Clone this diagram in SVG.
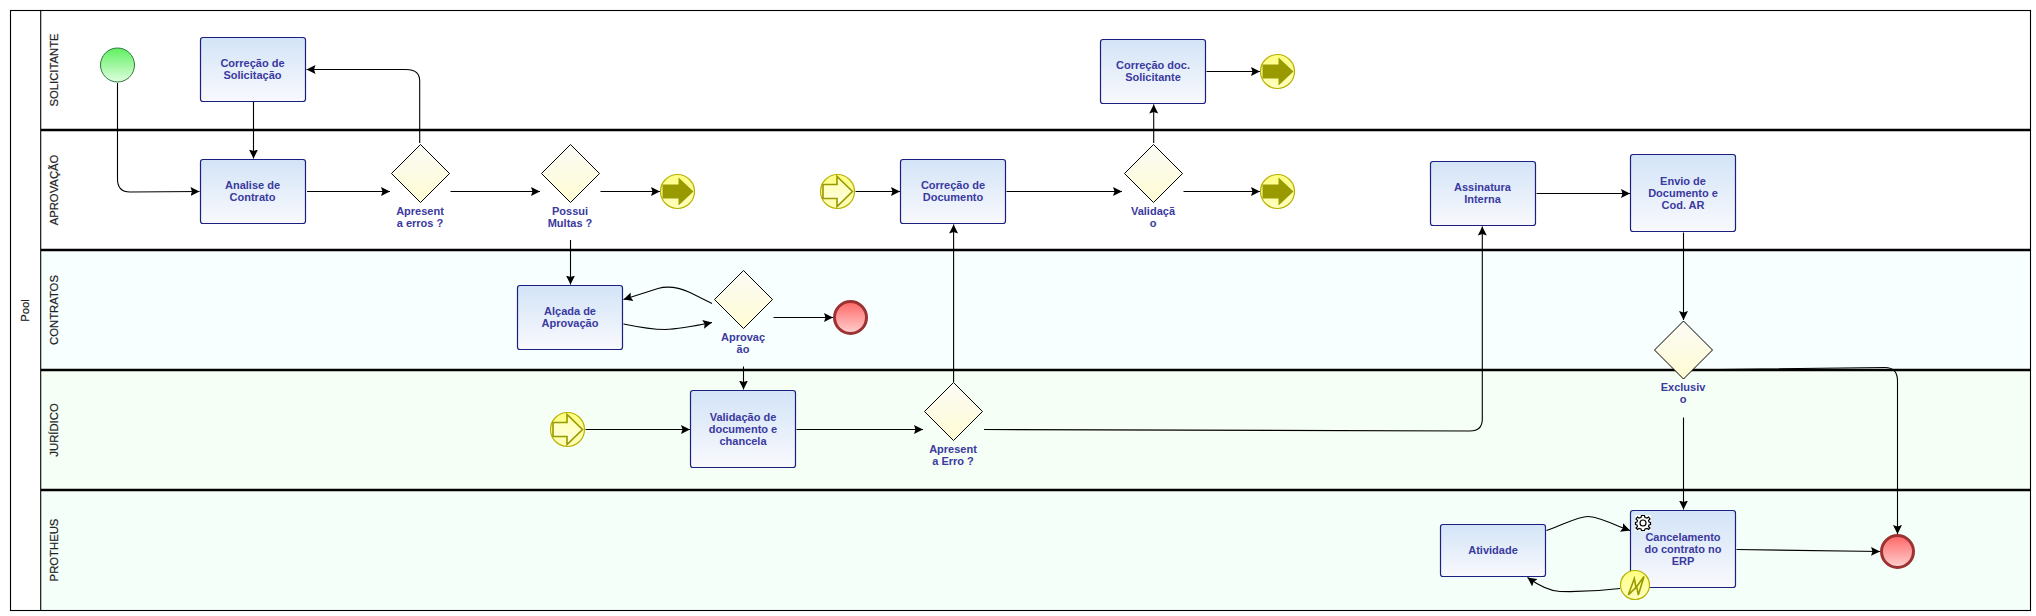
<svg xmlns="http://www.w3.org/2000/svg" width="2036" height="616" viewBox="0 0 2036 616">
<style>
text{font-family:"Liberation Sans",Arial,sans-serif}
.t{font-size:11px;font-weight:bold;fill:#3a3aa0;text-anchor:middle}
.l{font-size:11.3px;fill:#222;stroke:#222;stroke-width:.2;text-anchor:middle}
.task{fill:url(#gt);stroke:#1a1f80;stroke-width:1.2}
.gw{fill:url(#gg);stroke:#000;stroke-width:1}
.ev{fill:url(#ge);stroke:#b8b000;stroke-width:1.2}
.ar{fill:#999900}
.ao{fill:url(#gw2);stroke:#999900;stroke-width:1.6}
.end{fill:url(#gr);stroke:#9c3232;stroke-width:3}
.c path{fill:none;stroke:#000;stroke-width:1.1;marker-end:url(#m)}
.sep{stroke:#000;stroke-width:2.4}
</style>
<defs>
<linearGradient id="gt" x1="0" y1="0" x2="0" y2="1"><stop offset="0" stop-color="#d3e4f7"/><stop offset="1" stop-color="#f9f9fd"/></linearGradient>
<linearGradient id="gg" x1="0" y1="0" x2="0" y2="1"><stop offset="0" stop-color="#fbfbf6"/><stop offset="1" stop-color="#fffcd2"/></linearGradient>
<linearGradient id="ge" x1="0" y1="0" x2="0" y2="1"><stop offset="0" stop-color="#ffff80"/><stop offset="1" stop-color="#ffffc0"/></linearGradient>
<linearGradient id="gw2" x1="0" y1="0" x2="0" y2="1"><stop offset="0" stop-color="#ffffb0"/><stop offset="1" stop-color="#ffffe0"/></linearGradient>
<linearGradient id="gs" x1="0" y1="0" x2="0" y2="1"><stop offset="0" stop-color="#5fef5f"/><stop offset="1" stop-color="#e0ffe0"/></linearGradient>
<linearGradient id="gr" x1="0" y1="0" x2="0" y2="1"><stop offset="0" stop-color="#ff6666"/><stop offset="1" stop-color="#ffd0d0"/></linearGradient>
<marker id="m" markerUnits="userSpaceOnUse" markerWidth="10" markerHeight="10" refX="9" refY="5" orient="auto"><path d="M0,0.5 L9,5 L0,9.5 L1.5,5 Z" fill="#000"/></marker>
<path id="aSolid" d="M-15,-7 L1,-7 L1,-14 L16,0 L1,14 L1,7 L-15,7 Z"/>
<path id="aOpen" d="M-14.500,-7 L-0.500,-7 L-0.500,-15 L15,0 L-0.500,15 L-0.500,7 L-14.500,7 Z"/>
</defs>

<g id="pool">
<rect x="10.500" y="10.500" width="2020" height="600" fill="#fff"/>
<rect x="41" y="250" width="1989.500" height="120" fill="#f8ffff"/>
<rect x="41" y="370" width="1989.500" height="120" fill="#f5fff5"/>
<rect x="41" y="490" width="1989.500" height="120" fill="#f5fffa"/>
<line class="sep" x1="41" y1="130" x2="2030.500" y2="130"/>
<line class="sep" x1="41" y1="250" x2="2030.500" y2="250"/>
<line class="sep" x1="41" y1="370" x2="2030.500" y2="370"/>
<line class="sep" x1="41" y1="490" x2="2030.500" y2="490"/>
<rect x="10.500" y="10.500" width="2020" height="600" fill="none" stroke="#000" stroke-width="1.100"/>
<line x1="40.700" y1="10.500" x2="40.700" y2="610.500" stroke="#000" stroke-width="1.100"/>
<text class="l" font-size="11.500" transform="translate(28.500,310.500) rotate(-90)">Pool</text>
<text class="l" transform="translate(57.500,70) rotate(-90)">SOLICITANTE</text>
<text class="l" transform="translate(57.500,190) rotate(-90)">APROVAÇÃO</text>
<text class="l" transform="translate(57.500,310) rotate(-90)">CONTRATOS</text>
<text class="l" transform="translate(57.500,430) rotate(-90)">JURÍDICO</text>
<text class="l" transform="translate(57.500,550) rotate(-90)">PROTHEUS</text>
</g>

<g id="connectors" class="c">
<path d="M117.500,83 V179 Q117.500,192 130,192 L199.500,191.500"/>
<path d="M253.500,102 V158.500"/>
<path d="M307,191.500 H390"/>
<path d="M450.500,191.500 H540"/>
<path d="M600.500,191.500 H660"/>
<path d="M419.700,143 V81 Q419.700,69.500 406,69.500 H306.500"/>
<path d="M570.500,240 V284.500"/>
<path d="M712,303.500 L690,292.500 Q672,284.500 658,288.500 L623.500,299.500"/>
<path d="M623.500,324 Q650,329.500 665,329.500 Q680,329 712,322.500"/>
<path d="M773.500,317.500 H833"/>
<path d="M743.500,366.500 V389.500"/>
<path d="M855.500,191.500 H900"/>
<path d="M1006.500,191.500 H1122"/>
<path d="M1153.700,143 V104.500"/>
<path d="M1206.500,71.500 H1260"/>
<path d="M1183.500,191.500 H1260"/>
<path d="M953.600,382 V224.500"/>
<path d="M585.500,429.500 H690"/>
<path d="M796.500,429.500 H923"/>
<path d="M984,429.500 L1470,431 Q1482.300,431 1482.300,419 V226.500"/>
<path d="M1536.500,193.500 H1630"/>
<path d="M1683.500,232.500 V320"/>
<path d="M1719,369.500 L1885,367.500 Q1897.500,367.500 1897.500,381 V534"/>
<path d="M1683.500,417.500 V509.500"/>
<path d="M1546.500,530.500 C1565,524 1578,516.500 1588,516.500 C1598,516.500 1612,524 1630,530.500"/>
<path d="M1620,588.500 C1600,591 1580,592 1560,591.500 C1548,591 1538,585 1527.500,577.500"/>
<path d="M1736.500,549.500 L1880,551.500"/>
</g>

<g id="start"><circle cx="117.500" cy="65" r="17" fill="url(#gs)" stroke="#2a7a3a"/></g>

<g id="correcao-solicitacao"><rect class="task" x="200.500" y="37.500" width="105" height="64" rx="2.500"/><text class="t" x="252.500" y="67">Correção de</text><text class="t" x="252.500" y="79">Solicitação</text></g>
<g id="analise"><rect class="task" x="200.500" y="159.500" width="105" height="64" rx="2.500"/><text class="t" x="252.500" y="189">Analise de</text><text class="t" x="252.500" y="201">Contrato</text></g>
<g id="gw-apresenta-erros"><path class="gw" d="M420.500,144.500 L449.500,173.500 L420.500,202.500 L391.500,173.500 Z"/><text class="t" x="420" y="214.500">Apresent</text><text class="t" x="420" y="226.500">a erros ?</text></g>
<g id="gw-multas"><path class="gw" d="M570.500,144.500 L599.500,173.500 L570.500,202.500 L541.500,173.500 Z"/><text class="t" x="570" y="214.500">Possui</text><text class="t" x="570" y="226.500">Multas ?</text></g>
<g id="ev-throw-1"><circle class="ev" cx="677.500" cy="191.500" r="17"/><use class="ar" href="#aSolid" x="677.500" y="191.500"/></g>
<g id="ev-catch-1"><circle class="ev" cx="837.500" cy="191.500" r="17"/><use class="ao" href="#aOpen" x="837.500" y="191.500"/></g>
<g id="correcao-documento"><rect class="task" x="900.500" y="159.500" width="105" height="64" rx="2.500"/><text class="t" x="953" y="189">Correção de</text><text class="t" x="953" y="201">Documento</text></g>
<g id="gw-validacao"><path class="gw" d="M1153.500,144.500 L1182.500,173.500 L1153.500,202.500 L1124.500,173.500 Z"/><text class="t" x="1153" y="214.500">Validaçã</text><text class="t" x="1153" y="226.500">o</text></g>
<g id="correcao-doc-solicitante"><rect class="task" x="1100.500" y="39.500" width="105" height="64" rx="2.500"/><text class="t" x="1153" y="69">Correção doc.</text><text class="t" x="1153" y="81">Solicitante</text></g>
<g id="ev-throw-2"><circle class="ev" cx="1277.500" cy="71.500" r="17"/><use class="ar" href="#aSolid" x="1277.500" y="71.500"/></g>
<g id="ev-throw-3"><circle class="ev" cx="1277.500" cy="191.500" r="17"/><use class="ar" href="#aSolid" x="1277.500" y="191.500"/></g>
<g id="assinatura"><rect class="task" x="1430.500" y="161.500" width="105" height="64" rx="2.500"/><text class="t" x="1482.500" y="191">Assinatura</text><text class="t" x="1482.500" y="203">Interna</text></g>
<g id="envio"><rect class="task" x="1630.500" y="154.500" width="105" height="77" rx="2.500"/><text class="t" x="1683" y="185">Envio de</text><text class="t" x="1683" y="197">Documento e</text><text class="t" x="1683" y="209">Cod. AR</text></g>
<g id="alcada"><rect class="task" x="517.500" y="285.500" width="105" height="64" rx="2.500"/><text class="t" x="570" y="315">Alçada de</text><text class="t" x="570" y="327">Aprovação</text></g>
<g id="gw-aprovacao"><path class="gw" d="M743.500,270.500 L772.500,299.500 L743.500,328.500 L714.500,299.500 Z"/><text class="t" x="743" y="340.500">Aprovaç</text><text class="t" x="743" y="352.500">ão</text></g>
<g id="end-1"><circle class="end" cx="850.500" cy="317.500" r="16"/></g>
<g id="gw-exclusivo"><path class="gw" d="M1683.500,321 L1712.500,350 L1683.500,379 L1654.500,350 Z"/><text class="t" x="1683" y="391">Exclusiv</text><text class="t" x="1683" y="403">o</text></g>
<g id="ev-catch-2"><circle class="ev" cx="567.500" cy="429.500" r="17"/><use class="ao" href="#aOpen" x="567.500" y="429.500"/></g>
<g id="validacao-documento"><rect class="task" x="690.500" y="390.500" width="105" height="77" rx="2.500"/><text class="t" x="743" y="421">Validação de</text><text class="t" x="743" y="433">documento e</text><text class="t" x="743" y="445">chancela</text></g>
<g id="gw-apresenta-erro"><path class="gw" d="M953.500,382.500 L982.500,411.500 L953.500,440.500 L924.500,411.500 Z"/><text class="t" x="953" y="452.500">Apresent</text><text class="t" x="953" y="464.500">a Erro ?</text></g>
<g id="atividade"><rect class="task" x="1440.500" y="524.500" width="105" height="52" rx="2.500"/><text class="t" x="1493" y="554">Atividade</text></g>
<g id="cancelamento"><rect class="task" x="1630.500" y="510.500" width="105" height="77" rx="2.500"/><text class="t" x="1683" y="541">Cancelamento</text><text class="t" x="1683" y="553">do contrato no</text><text class="t" x="1683" y="565">ERP</text>
<rect x="1635" y="515" width="16" height="16" fill="#fff"/>
<circle cx="1643" cy="523" r="3" fill="none" stroke="#000" stroke-width="1.200"/>
<path d="M1641.500,515.500 L1644.500,515.500 L1645,517.500 L1647,518 L1648.500,517 L1650,519 L1648.500,520.500 L1649,522 L1650.500,522.500 L1650.500,524.500 L1649,525 L1648.500,526.500 L1650,528 L1648.500,529.500 L1647,528.500 L1645,529 L1644.500,530.500 L1641.500,530.500 L1641,529 L1639,528.500 L1637.500,529.500 L1636,528 L1637.500,526.500 L1637,525 L1635.500,524.500 L1635.500,522.500 L1637,522 L1637.500,520.500 L1636,519 L1637.500,517 L1639,518 L1641,517.500 Z" fill="none" stroke="#000" stroke-width="1.200"/>
</g>
<g id="ev-error"><circle class="ev" cx="1635" cy="585" r="14.500"/><path d="M1628.300,595 L1634.300,578.500 L1636,587.500 L1644,576.500 L1638.300,595 L1636.700,586.700 Z" fill="#ffff99" stroke="#999900" stroke-width="1.600" stroke-linejoin="miter"/></g>
<g id="end-2"><circle class="end" cx="1897.500" cy="551.500" r="16"/></g>
</svg>
